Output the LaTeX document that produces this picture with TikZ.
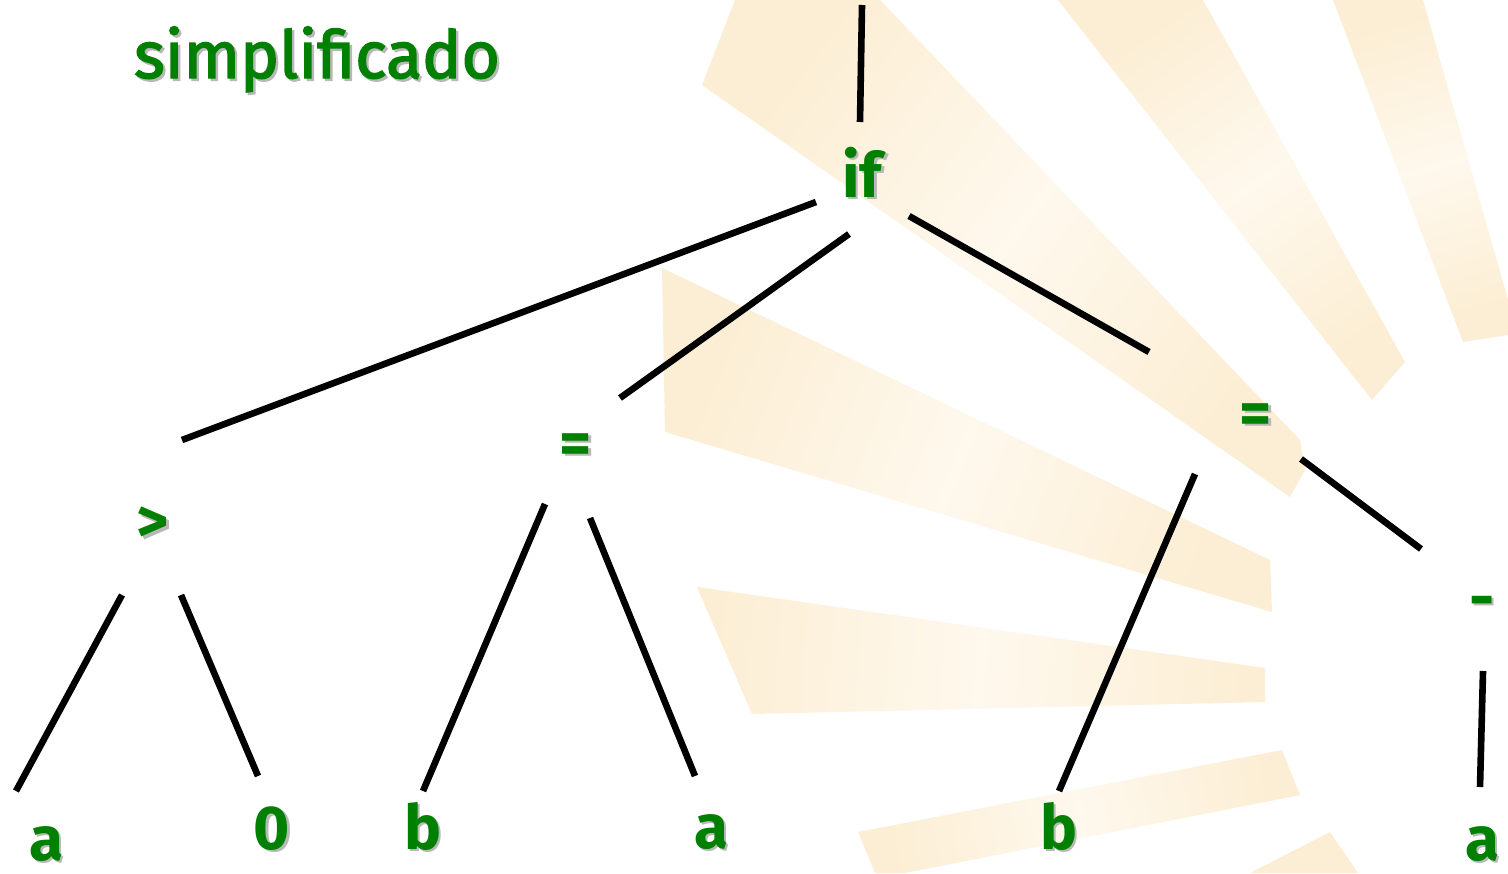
\documentclass[tikz,border=0pt]{standalone}
\usepackage{fontspec}
\setmainfont{Fira Sans}
\newfontfamily\medfont{Fira Sans}[FakeBold=2.2]
\definecolor{tgreen}{RGB}{0,128,0}
\definecolor{raydark}{RGB}{252,238,212}
\definecolor{raylight}{RGB}{254,248,237}
\newcommand{\shd}[1]{\makebox[0pt][l]{\hspace{1.2pt}\raisebox{-1.2pt}{\textcolor{black!28}{#1}}}#1}
\tikzset{
  lbl/.style={text=tgreen, font=\fontsize{31}{36}\selectfont\bfseries, inner sep=0pt},
  ttl/.style={text=tgreen, font=\fontsize{33}{38}\selectfont\medfont, inner sep=0pt},
  edge/.style={line width=3.3pt, black},
  raysh/.style={draw=none, top color=raydark, bottom color=raydark, middle color=raylight, shading angle=#1}
}
\begin{document}
\begin{tikzpicture}[x=0.5pt, y=-0.5pt]
\fill[white] (0,0) rectangle (1508,873);
\useasboundingbox (0,0) rectangle (1508,873);
% background rays
\shade[raysh=53.5] (735,0) -- (880,0) -- (1300,440) -- (1305,470) -- (1290,497) -- (702,85) -- cycle;
\shade[raysh=68.4] (662,268) -- (1270,560) -- (1272,612) -- (665,432) -- cycle;
\shade[raysh=86.5] (697,587) -- (1265,668) -- (1265,702) -- (752,714) -- cycle;
\shade[raysh=100.8] (858,832) -- (1282,750) -- (1300,795) -- (905,873) -- (875,873) -- cycle;
\fill[raydark] (1250,873) -- (1330,832) -- (1358,873) -- cycle;
\shade[raysh=34.4] (1058,0) -- (1203,0) -- (1405,362) -- (1372,400) -- cycle;
\shade[raysh=16.5] (1333,0) -- (1423,0) -- (1508,300) -- (1508,335) -- (1463,342) -- cycle;
% title
\node[ttl, anchor=base] (title) at (317,78) {\shd{simplificado}};
% nodes
\node[lbl, anchor=base] (if) at (862,197) {\shd{if}};
\node[lbl] (gt) at (153,526) {\shd{>}};
\node[lbl] (eqm) at (576,450) {\shd{=}};
\node[lbl] (eqr) at (1256,420) {\shd{=}};
\node[lbl] (neg) at (1482,609) {\shd{-}};
\node[lbl, anchor=base] (a1) at (46,860) {\shd{a}};
\node[lbl, anchor=base] (z0) at (272,849) {\shd{0}};
\node[lbl, anchor=base] (b1) at (423,849) {\shd{b}};
\node[lbl, anchor=base] (a2) at (711,848) {\shd{a}};
\node[lbl, anchor=base] (b2) at (1059,849) {\shd{b}};
\node[lbl, anchor=base] (a3) at (1482,860) {\shd{a}};
% connector end points
\coordinate (top) at (862,5);
\coordinate (ifT) at (860,122);
\coordinate (ifL) at (816,202);
\coordinate (gtT) at (182,440);
\coordinate (ifM) at (849,234);
\coordinate (eqmT) at (620,398);
\coordinate (ifR) at (909,216);
\coordinate (eqrT) at (1149,352);
\coordinate (eqrL) at (1195,474);
\coordinate (b2T) at (1059,791);
\coordinate (eqrR) at (1301,459);
\coordinate (negT) at (1421,549);
\coordinate (negB) at (1483,671);
\coordinate (a3T) at (1480,787);
\coordinate (gtL) at (122,595);
\coordinate (a1T) at (16,791);
\coordinate (gtR) at (181,595);
\coordinate (z0T) at (258,776);
\coordinate (eqmL) at (545,504);
\coordinate (b1T) at (423,791);
\coordinate (eqmR) at (590,518);
\coordinate (a2T) at (695,776);
% connectors
\draw[edge] (top) -- (ifT);
\draw[edge] (ifL) -- (gtT);
\draw[edge] (ifM) -- (eqmT);
\draw[edge] (ifR) -- (eqrT);
\draw[edge] (eqrL) -- (b2T);
\draw[edge] (eqrR) -- (negT);
\draw[edge] (negB) -- (a3T);
\draw[edge] (gtL) -- (a1T);
\draw[edge] (gtR) -- (z0T);
\draw[edge] (eqmL) -- (b1T);
\draw[edge] (eqmR) -- (a2T);
\end{tikzpicture}
\end{document}
